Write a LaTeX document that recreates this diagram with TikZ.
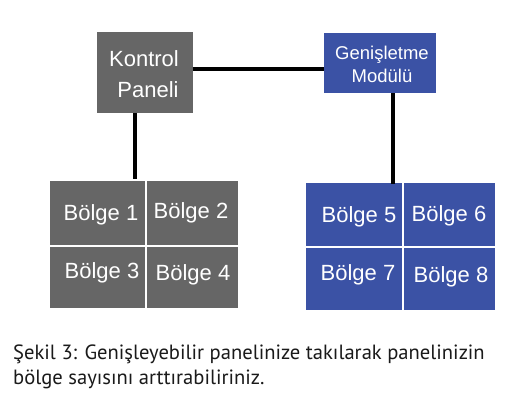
\documentclass[tikz,border=0pt]{standalone}
\usepackage{fontspec}
\setmainfont{Liberation Sans}
\newfontfamily\capfont{PT Sans}
\definecolor{boxgray}{HTML}{666666}
\definecolor{boxblue}{HTML}{3B52A5}
\definecolor{captext}{HTML}{1A1A1A}
\begin{document}
\begin{tikzpicture}[x=1pt,y=-1pt,
  graybox/.style={draw=none,fill=boxgray,inner sep=0pt},
  bluebox/.style={draw=none,fill=boxblue,inner sep=0pt},
  cellgray/.style={fill=boxgray,draw=white,line width=1.6pt,inner sep=0pt},
  cellblue/.style={fill=boxblue,draw=white,line width=1.6pt,inner sep=0pt},
  wtext/.style={text=white,inner sep=0pt,font=\fontsize{22}{24}\selectfont},
  gtext/.style={text=white,inner sep=0pt,font=\fontsize{18.5}{21}\selectfont},
  ctext/.style={text=white,inner sep=0pt,font=\fontsize{22}{24}\selectfont},
  wire/.style={line width=3.5pt,black},
  caption/.style={text=captext,inner sep=0pt,anchor=base west,font=\capfont\fontsize{20.6}{24}\selectfont}]
\useasboundingbox (0,0) rectangle (527,413);
\fill[white] (0,0) rectangle (527,413);
% control panel
\node[graybox,minimum width=96pt,minimum height=81pt] (kp) at (144.5,72.5) {};
\node[wtext] (kp1) at (144,59) {Kontrol};
\node[wtext] (kp2) at (148,90) {Paneli};
% expansion module
\node[bluebox,minimum width=112pt,minimum height=60pt] (gm) at (380,63) {};
\node[gtext] (gm1) at (382,55) {Genişletme};
\node[gtext] (gm2) at (382,76) {Modülü};
% gray zones
\node[cellgray,minimum width=97pt,minimum height=66pt] (c1) at (97.5,213) {};
\node[cellgray,minimum width=93pt,minimum height=66pt] (c2) at (192.5,213) {};
\node[cellgray,minimum width=97pt,minimum height=63pt] (c3) at (97.5,277.5) {};
\node[cellgray,minimum width=93pt,minimum height=63pt] (c4) at (192.5,277.5) {};
\node[ctext] (t1) at (101,215) {Bölge 1};
\node[ctext] (t2) at (191,213) {Bölge 2};
\node[ctext] (t3) at (102,273) {Bölge 3};
\node[ctext] (t4) at (193,275) {Bölge 4};
% blue zones
\node[cellblue,minimum width=98pt,minimum height=65pt] (c5) at (354,214.5) {};
\node[cellblue,minimum width=93pt,minimum height=65pt] (c6) at (449.5,214.5) {};
\node[cellblue,minimum width=98pt,minimum height=64pt] (c7) at (354,279) {};
\node[cellblue,minimum width=93pt,minimum height=64pt] (c8) at (449.5,279) {};
\node[ctext] (t5) at (359,217) {Bölge 5};
\node[ctext] (t6) at (449,216) {Bölge 6};
\node[ctext] (t7) at (358,275) {Bölge 7};
\node[ctext] (t8) at (451,277) {Bölge 8};
% connectors
\draw[wire] (kp.east |- 0,69) -- (gm.west |- 0,69);
\draw[wire] (kp.south -| 135,0) -- (c1.north -| 135,0);
\draw[wire] (gm.south -| 393,0) -- ([yshift=-3pt]c5.north -| 393,0);
% caption
\node[caption] (cap1) at (13,359) {Şekil 3: Genişleyebilir panelinize takılarak panelinizin};
\node[caption] (cap2) at (13,384) {bölge sayısını arttırabiliriniz.};
\end{tikzpicture}
\end{document}
